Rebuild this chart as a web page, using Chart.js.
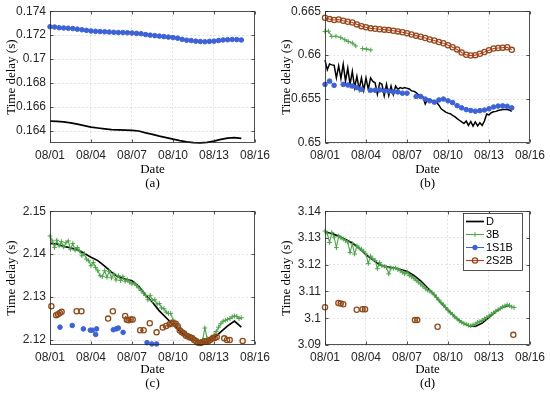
<!DOCTYPE html>
<html><head><meta charset="utf-8">
<script src="https://cdn.jsdelivr.net/npm/chart.js@4/dist/chart.umd.min.js"></script>
<style>
html,body{margin:0;padding:0;background:#fff;}
#wrap{position:relative;width:550px;height:398px;overflow:hidden;background:#fff;}
.p{position:absolute;}
canvas{display:block;}
</style></head><body>
<div id="wrap">
<div class="p" style="left:0;top:0;width:275px;height:200px"><canvas id="ca" width="275" height="200"></canvas></div>
<div class="p" style="left:275px;top:0;width:275px;height:200px"><canvas id="cb" width="275" height="200"></canvas></div>
<div class="p" style="left:0;top:200px;width:275px;height:198px"><canvas id="cc" width="275" height="198"></canvas></div>
<div class="p" style="left:275px;top:200px;width:275px;height:198px"><canvas id="cd" width="275" height="198"></canvas></div>
</div>
<script>
// ---------- axis ticks / labels ----------
const xTickDays = [0, 3, 6, 9, 12, 15];
const xTickLabels = ['08/01', '08/04', '08/07', '08/10', '08/13', '08/16'];
const aYTicks = [0.164, 0.166, 0.168, 0.17, 0.172, 0.174];
const aYTickLabels = ['0.164', '0.166', '0.168', '0.17', '0.172', '0.174'];
const bYTicks = [0.65, 0.655, 0.66, 0.665];
const bYTickLabels = ['0.65', '0.655', '0.66', '0.665'];
const cYTicks = [2.12, 2.13, 2.14, 2.15];
const cYTickLabels = ['2.12', '2.13', '2.14', '2.15'];
const dYTicks = [3.09, 3.1, 3.11, 3.12, 3.13, 3.14];
const dYTickLabels = ['3.09', '3.1', '3.11', '3.12', '3.13', '3.14'];
const seriesNames = ['D', '3B', '1S1B', '2S2B'];
const captions = ['(a)', '(b)', '(c)', '(d)'];
const xTitle = 'Date';
const yTitle = 'Time delay (s)';

// ---------- panel (a) ----------
const aDStep = 0.5;
const aD = [0.16482,0.16480,0.16477,0.16468,0.16457,0.16445,0.16433,0.16425,0.16418,0.16412,0.16409,0.16407,0.16406,0.16400,0.16385,0.16372,0.16357,0.16345,0.16332,0.16320,0.16310,0.16303,0.16301,0.16305,0.16316,0.16330,0.16340,0.16345,0.16338];
const a1S1BStep = 1/3;
const a1S1B = [0.17270,0.17268,0.17262,0.17260,0.17258,0.17255,0.17250,0.17245,0.17240,0.17235,0.17232,0.17230,0.17228,0.17226,0.17224,0.17222,0.17222,0.17220,0.17218,0.17215,0.17212,0.17205,0.17200,0.17196,0.17192,0.17188,0.17184,0.17180,0.17175,0.17165,0.17158,0.17155,0.17150,0.17147,0.17145,0.17148,0.17150,0.17155,0.17160,0.17162,0.17164,0.17163,0.17160];

// ---------- panel (b) ----------
const bDStep = 1/6;
const bD = [0.65944,0.65833,0.65900,0.65889,0.65885,0.65741,0.65878,0.65733,0.65896,0.65704,0.65852,0.65667,0.65815,0.65630,0.65759,0.65611,0.65741,0.65600,0.65741,0.65610,0.65741,0.65700,0.65685,0.65556,0.65685,0.65670,0.65537,0.65667,0.65540,0.65648,0.65550,0.65648,0.65610,0.65630,0.65622,0.65630,0.65622,0.65615,0.65593,0.65590,0.65574,0.65548,0.65540,0.65526,0.65444,0.65500,0.65495,0.65481,0.65481,0.65463,0.65430,0.65389,0.65370,0.65352,0.65340,0.65333,0.65315,0.65300,0.65278,0.65259,0.65241,0.65222,0.65250,0.65200,0.65245,0.65193,0.65240,0.65195,0.65230,0.65200,0.65250,0.65330,0.65320,0.65345,0.65355,0.65360,0.65370,0.65375,0.65380,0.65380,0.65380,0.65375,0.65360];
const b3BDays = [0, 0.25, 0.5, 0.8, 1.15, 1.45, 1.7, 2.0, 2.25, 2.5, 2.75, 3.05, 3.35];
const b3B = [0.66270,0.66272,0.66212,0.66215,0.66200,0.66175,0.66155,0.66138,0.66105,null,0.66074,0.66068,0.66059];
const b1S1BStep = 1/3;
const b1S1B = [0.65667,0.65704,0.65656,null,0.65667,0.65660,0.65648,0.65630,0.65611,null,0.65600,0.65600,0.65604,0.65593,0.65590,0.65581,0.65581,0.65567,0.65567,null,0.65530,0.65530,0.65500,0.65480,0.65465,0.65490,0.65500,0.65480,0.65460,0.65425,0.65400,0.65380,0.65370,0.65362,0.65368,0.65375,0.65390,0.65410,0.65420,0.65422,0.65418,0.65400];
const b2S2BStep = 1/3;
const b2S2B = [0.66426,0.66410,0.66400,0.66405,0.66392,0.66380,0.66372,0.66350,0.66330,0.66318,0.66305,0.66300,0.66295,0.66290,0.66285,0.66278,0.66270,0.66260,0.66250,0.66235,0.66222,0.66210,0.66195,0.66178,0.66167,0.66150,0.66135,0.66112,0.66090,0.66065,0.66030,0.66005,0.65995,0.66000,0.66015,0.66035,0.66055,0.66075,0.66082,0.66085,0.66090,0.66060];

// ---------- panel (c) ----------
const cDStep = 0.5;
const cD = [2.1425,2.1424,2.1418,2.1415,2.1410,2.1402,2.1393,2.1385,2.1372,2.1358,2.1347,2.1342,2.1338,2.1325,2.1305,2.1288,2.1268,2.1252,2.1236,2.1220,2.1208,2.1200,2.1194,2.1195,2.1205,2.1219,2.1233,2.1244,2.1230];
const c3BStep = 1/6;
const c3B = [2.14423,2.14308,2.14154,2.14323,2.14192,2.14292,2.14169,2.14269,2.14308,2.14115,2.14246,2.14092,2.14154,2.14077,2.13962,2.14015,2.13885,2.13846,2.13731,2.13808,2.13692,2.13615,2.13500,2.13477,2.13615,2.13462,2.13600,2.13446,2.13538,2.13400,2.13500,2.13385,2.13477,2.13369,2.13400,2.13346,2.13308,2.13323,2.13269,2.13215,2.13154,2.13092,2.13038,2.12938,2.1304,2.1292,2.1294,2.1284,2.1285,2.1275,2.1273,2.1265,2.1262,2.1262,2.1247,2.1238,2.1233,2.1228,2.1222,2.1218,2.1214,2.1211,2.1208,2.1205,2.1200,2.1198,2.1196,2.1200,2.1228,2.1204,2.1200,2.1206,2.1212,2.1220,2.1230,2.1238,2.1244,2.1246,2.1248,2.1250,2.1254,2.1256,2.1255,2.1250,2.1252];
const c1S1BDays = [0.73, 1.63, 2.44, 2.95, 3.1, 3.34, 3.41, 4.63, 4.85, 5.0, 5.35, 7.1, 7.45, 7.8];
const c1S1B = [2.1230,2.1234,2.1226,2.1223,2.1223,2.1213,2.1226,2.1224,2.1226,2.1228,2.1218,2.1194,2.1191,2.1191];
const c2S2BDays = [0.1,0.3,0.45,0.58,0.72,0.85,1.4,1.95,2.1,2.3,3.5,4.25,4.4,4.6,5.0,5.5,5.62,5.75,5.9,6.05,6.3,6.6,6.85,7.05,7.3,7.55,7.8,8.0,8.25,8.5,8.75,8.9,9.05,9.2,9.35,9.5,9.65,9.8,9.95,10.1,10.25,10.4,10.55,10.7,10.85,11.0,11.15,11.3,11.45,11.6,11.75,11.9,12.05,12.2,12.5,12.75,12.85,12.95,13.05,13.15,13.6,14.1];
const c2S2B = [2.1279,null,2.1258,2.1260,2.1263,2.1266,null,2.1267,null,2.1267,null,2.1250,null,2.1267,null,2.1256,2.1247,2.1246,2.1248,2.1248,null,2.1223,2.1223,null,2.1239,null,2.1218,null,2.1229,2.1233,2.1237,2.1239,2.1239,2.1238,2.1232,2.1222,2.1218,2.1215,2.1210,2.1208,2.1206,2.1205,2.1200,2.1197,2.1194,2.1193,2.1195,2.1197,2.1196,2.1198,2.1201,2.1204,2.1205,2.1207,null,2.1204,null,2.1200,null,2.1200,null,2.1198];

// ---------- panel (d) ----------
const dDStep = 0.5;
const dD = [3.1323,3.1316,3.1307,3.1294,3.1281,3.1262,3.1238,3.1218,3.1200,3.1192,3.1188,3.1182,3.1175,3.1160,3.1140,3.1114,3.1087,3.1057,3.1030,3.1005,3.0985,3.0972,3.0970,3.0982,3.1003,3.1025,3.1041,3.1048];
const d3BStep = 1/6;
const d3B = [3.1326,3.1316,3.1283,3.1320,3.1303,3.1264,3.1307,3.1300,3.1296,3.1290,3.1285,3.1246,3.1278,3.1240,3.1270,3.1262,3.1258,3.1250,3.1240,3.1205,3.1232,3.1222,3.1216,3.1185,3.1208,3.1196,3.1194,3.1190,3.1166,3.1188,3.1186,3.1188,3.1182,3.1178,3.1172,3.1166,3.1172,3.1160,3.1155,3.1150,3.1142,3.1135,3.1128,3.1120,3.1112,3.1105,3.1102,3.1095,3.1088,3.1078,3.1068,3.1058,3.1050,3.1040,3.1030,3.1020,3.1015,3.1005,3.0998,3.0990,3.0985,3.0980,3.0978,3.0974,3.0972,3.0975,3.0978,3.0985,3.0988,3.0992,3.0998,3.1003,3.1008,3.1015,3.1020,3.1026,3.1032,3.1037,3.1042,3.1046,3.1050,3.1048,3.1042,3.1040];
const d2S2BDays = [0,0.5,0.98,1.15,1.34,1.8,2.32,2.5,2.75,2.93,4.0,6.58,6.75,7.5,8.24,11.0,13.78];
const d2S2B = [3.1041,null,3.1057,3.1055,3.1052,null,3.1032,null,3.1034,3.1034,null,3.0993,3.0993,null,3.0968,null,3.0938];

// ---------- helpers ----------
function regular(vals, step){ return vals.map((v,i)=>({x:i*step, y:v})); }
function paired(days, vals){ return days.map((d,i)=>({x:d, y:vals[i]})); }

const COL = {D:'#000000', G:'#4ea54a', B:'#3d62d6', R:'#e32b22', BR:'#8e4a18'};
function ds(name, data, extra){
  const base = {
    'D':   {borderColor:COL.D, borderWidth:1.7, pointRadius:0, order:4},
    '3B':  {borderColor:COL.G, borderWidth:1.1, pointStyle:'cross', pointRadius:2.4, pointBorderColor:COL.G, pointBackgroundColor:COL.G, pointBorderWidth:1, order:3},
    '1S1B':{borderColor:COL.B, borderWidth:1, pointStyle:'circle', pointRadius:2.3, pointBorderColor:COL.B, pointBackgroundColor:COL.B, pointBorderWidth:1, order:2},
    '2S2B':{borderColor:COL.R, borderWidth:1.1, pointStyle:'circle', pointRadius:2.6, pointBorderColor:COL.BR, pointBackgroundColor:'rgba(0,0,0,0)', pointBorderWidth:1.3, order:1}
  }[name];
  return Object.assign({label:name, data:data, tension:0, spanGaps:false, clip:false, pointHoverRadius:0}, base, extra||{});
}

const decor = {
  id:'decor',
  afterDatasetsDraw(chart, args, o){
    const ctx = chart.ctx, ca = chart.chartArea;
    const xs = chart.scales.x, ys = chart.scales.y;
    ctx.save();
    ctx.strokeStyle = '#262626'; ctx.lineWidth = 0.8;
    const L = Math.round(ca.left)+0.5, R = Math.round(ca.right)-0.5, T = Math.round(ca.top)+0.5, B = Math.round(ca.bottom)-0.5;
    ctx.strokeRect(L, T, R-L, B-T);
    ctx.beginPath();
    xs.ticks.forEach(t=>{ const px = Math.round(xs.getPixelForValue(t.value))+0.5; ctx.moveTo(px,B); ctx.lineTo(px,B-3); ctx.moveTo(px,T); ctx.lineTo(px,T+3); });
    ys.ticks.forEach(t=>{ const py = Math.round(ys.getPixelForValue(t.value))+0.5; ctx.moveTo(L,py); ctx.lineTo(L+3,py); ctx.moveTo(R,py); ctx.lineTo(R-3,py); });
    ctx.stroke();
    ctx.restore();
  },
  afterDraw(chart, args, o){
    const ctx = chart.ctx, ca = chart.chartArea;
    ctx.save();
    ctx.fillStyle = '#000';
    ctx.font = '13px "Liberation Serif", "Times New Roman", serif';
    ctx.textAlign = 'center'; ctx.textBaseline = 'middle';
    ctx.fillText(xTitle, (ca.left+ca.right)/2, 170);
    ctx.fillText(o.caption, (ca.left+ca.right)/2, 183.5);
    ctx.translate(12, (ca.top+ca.bottom)/2);
    ctx.rotate(-Math.PI/2);
    ctx.fillText(yTitle, 0, 0);
    ctx.restore();
    if (o.legend){
      ctx.save();
      const bx = o.legend.x, by = o.legend.y, bw = o.legend.w, bh = o.legend.h;
      ctx.fillStyle = '#fff'; ctx.fillRect(bx, by, bw, bh);
      ctx.strokeStyle = '#262626'; ctx.lineWidth = 0.8; ctx.strokeRect(bx+0.5, by+0.5, bw, bh);
      ctx.font = '11px "Liberation Sans", Arial, sans-serif';
      ctx.textAlign = 'left'; ctx.textBaseline = 'middle';
      chart.data.datasets.forEach((d,i)=>{
        const y = by + 8.5 + i*13;
        const x0 = bx + 3, x1 = bx + 21, xm = (x0+x1)/2;
        ctx.strokeStyle = d.borderColor; ctx.lineWidth = d.borderWidth;
        ctx.beginPath(); ctx.moveTo(x0,y); ctx.lineTo(x1,y); ctx.stroke();
        if (d.pointRadius > 0){
          ctx.lineWidth = d.pointBorderWidth; ctx.strokeStyle = d.pointBorderColor; ctx.fillStyle = d.pointBackgroundColor;
          ctx.beginPath();
          if (d.pointStyle === 'cross'){ const r=d.pointRadius; ctx.moveTo(xm-r,y); ctx.lineTo(xm+r,y); ctx.moveTo(xm,y-r); ctx.lineTo(xm,y+r); ctx.stroke(); }
          else { ctx.arc(xm, y, d.pointRadius, 0, Math.PI*2); ctx.fill(); ctx.stroke(); }
        }
        ctx.fillStyle = '#000';
        ctx.fillText(d.label, x1 + 2, y + 0.5);
      });
      ctx.restore();
    }
  }
};

function makeChart(id, datasets, yMin, yMax, yTicks, yLabels, caption, area, legend){
  const cv = document.getElementById(id);
  const W = cv.width, H = cv.height;
  return new Chart(cv, {
    type:'line',
    data:{datasets:datasets},
    plugins:[decor],
    options:{
      responsive:false, animation:false, events:[],
      layout:{padding:{top:area.top, right:W-area.right, left:0, bottom:0}},
      plugins:{legend:{display:false}, tooltip:{enabled:false}, decor:{caption:caption, legend:legend}},
      scales:{
        x:{type:'linear', min:0, max:15,
           afterBuildTicks:s=>{ s.ticks = xTickDays.map(v=>({value:v})); },
           afterFit:s=>{ s.height = H - area.bottom; },
           ticks:{autoSkip:false, maxRotation:0, padding:5, color:'#262626',
             font:{family:'"Liberation Sans", Arial, sans-serif', size:12},
             callback:(v)=>{ const i = xTickDays.findIndex(t=>Math.abs(t-v)<1e-9); return i>=0 ? xTickLabels[i] : ''; }},
           grid:{color:'rgba(0,0,0,0.14)', lineWidth:0.8, drawTicks:false},
           border:{display:false, dash:[2,2]}},
        y:{type:'linear', min:yMin, max:yMax,
           afterBuildTicks:s=>{ s.ticks = yTicks.map(v=>({value:v})); },
           afterFit:s=>{ s.width = area.left; },
           ticks:{autoSkip:false, padding:4, color:'#262626',
             font:{family:'"Liberation Sans", Arial, sans-serif', size:12},
             callback:(v)=>{ const i = yTicks.findIndex(t=>Math.abs(t-v)<1e-9); return i>=0 ? yLabels[i] : ''; }},
           grid:{color:'rgba(0,0,0,0.14)', lineWidth:0.8, drawTicks:false},
           border:{display:false, dash:[2,2]}}
      }
    }
  });
}

makeChart('ca', [
  ds('D', regular(aD, aDStep)),
  ds('1S1B', regular(a1S1B, a1S1BStep))
], 0.163, 0.174, aYTicks, aYTickLabels, captions[0], {top:10, bottom:143, left:50, right:255}, null);

makeChart('cb', [
  ds('D', regular(bD, bDStep), {borderWidth:1.5}),
  ds('3B', paired(b3BDays, b3B)),
  ds('1S1B', regular(b1S1B, b1S1BStep)),
  ds('2S2B', regular(b2S2B, b2S2BStep))
], 0.65, 0.665, bYTicks, bYTickLabels, captions[1], {top:8.5, bottom:143, left:50, right:255}, null);

makeChart('cc', [
  ds('D', regular(cD, cDStep)),
  ds('3B', regular(c3B, c3BStep)),
  ds('1S1B', paired(c1S1BDays, c1S1B), {showLine:false}),
  ds('2S2B', paired(c2S2BDays, c2S2B))
], 2.11885, 2.15, cYTicks, cYTickLabels, captions[2], {top:10, bottom:145, left:50, right:255}, null);

makeChart('cd', [
  ds('D', regular(dD, dDStep)),
  ds('3B', regular(d3B, d3BStep)),
  ds('1S1B', []),
  ds('2S2B', paired(d2S2BDays, d2S2B))
], 3.09, 3.14, dYTicks, dYTickLabels, captions[3], {top:10, bottom:145, left:50, right:255}, {x:188, y:13, w:59, h:57});
</script>
</body></html>
